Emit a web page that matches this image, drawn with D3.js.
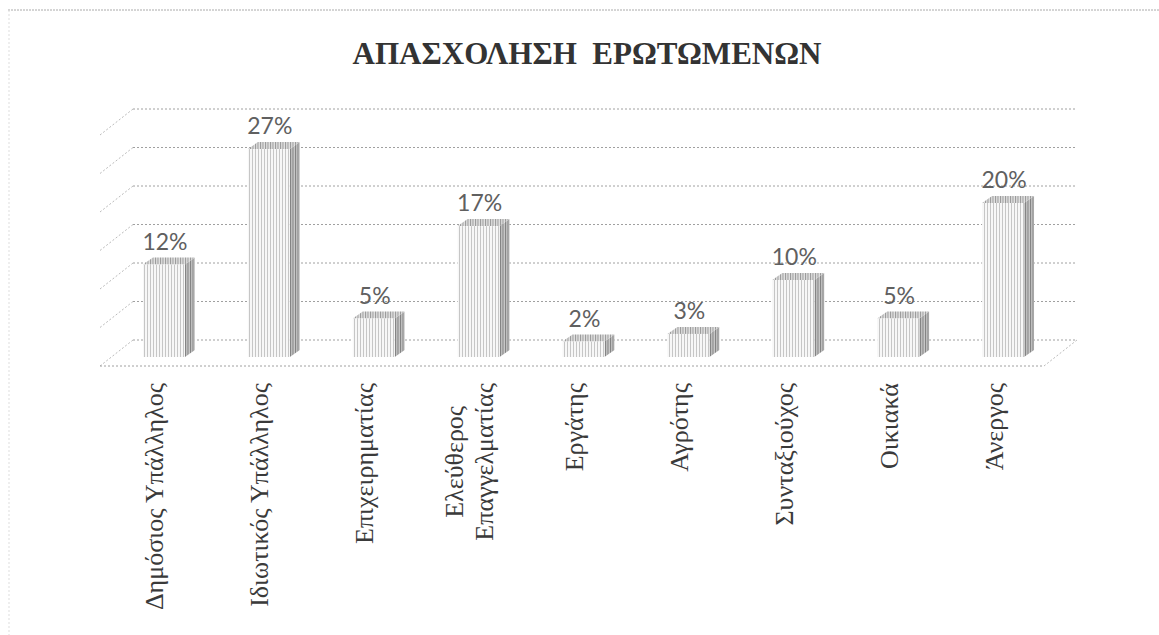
<!DOCTYPE html>
<html>
<head>
<meta charset="utf-8">
<script src="https://cdn.jsdelivr.net/npm/d3@7"></script>
<style>
  body { margin: 0; background: #fff; }
</style>
</head>
<body>
<div id="canvas"></div>
<script>
var title = "ΑΠΑΣΧΟΛΗΣΗ  ΕΡΩΤΩΜΕΝΩΝ";
var categories = [
  ["Δημόσιος Υπάλληλος"],
  ["Ιδιωτικός Υπάλληλος"],
  ["Επιχειρηματίας"],
  ["Ελεύθερος", "Επαγγελματίας"],
  ["Εργάτης"],
  ["Αγρότης"],
  ["Συνταξιούχος"],
  ["Οικιακά"],
  ["Άνεργος"]
];
var values = [12, 27, 5, 17, 2, 3, 10, 5, 20];
var gridTicks = [0, 5, 10, 15, 20, 25, 30];

var width = 1159, height = 635;
var floorLeft = 100, floorRight = 1044, floorFront = 366;
var wallDx = 33, wallDy = -26;      // depth of the 3d box
var barDx = 11.5, barDy = -9;       // where the bar front sits in depth
var sideDx = 10, sideDy = -7;       // bar depth

var svg = d3.select("#canvas").append("svg").attr("width", width).attr("height", height);

// stripe textures for the bar faces
var defs = svg.append("defs");
var makeStripes = function(id, bg, line, step) {
  var p = defs.append("pattern").attr("id", id)
    .attr("patternUnits", "userSpaceOnUse")
    .attr("width", step).attr("height", 4);
  p.append("rect").attr("width", step).attr("height", 4).attr("fill", bg);
  p.append("rect").attr("width", 1).attr("height", 4).attr("fill", line);
};
makeStripes("frontFill", "#f7f7f7", "#c6c6c6", 3);
makeStripes("sideFill", "#c8c8c8", "#7e7e7e", 2.5);
makeStripes("topFill", "#e2e2e2", "#969696", 2.5);

// outer frame
svg.append("line").attr("x1", 8).attr("y1", 10).attr("x2", width).attr("y2", 10)
  .attr("stroke", "#aaa").attr("stroke-dasharray", "2,1");
svg.append("line").attr("x1", 9).attr("y1", 10).attr("x2", 9).attr("y2", height)
  .attr("stroke", "#ddd").attr("stroke-dasharray", "2,2");

// title
svg.append("text").attr("x", 587).attr("y", 64)
  .attr("text-anchor", "middle")
  .style("font-family", "'Liberation Serif', 'DejaVu Serif', serif")
  .style("font-weight", "bold")
  .style("font-size", "32px")
  .style("fill", "#333")
  .style("white-space", "pre")
  .attr("textLength", 469).attr("lengthAdjust", "spacingAndGlyphs")
  .text(title);

var x = d3.scaleBand().domain(d3.range(categories.length)).range([floorLeft, floorRight]).paddingInner(0).paddingOuter(0);
var y = d3.scaleLinear().domain([0, 30]).range([floorFront, floorFront - 231]);

var grid = svg.append("g").attr("stroke", "#a0a0a0").attr("stroke-dasharray", "2,2").attr("fill", "none");
gridTicks.forEach(function(v) {
  var gy = y(v) + wallDy;
  grid.append("line")
    .attr("x1", floorLeft + wallDx).attr("y1", gy)
    .attr("x2", floorRight + wallDx).attr("y2", gy);
  grid.append("line")
    .attr("x1", floorLeft + wallDx).attr("y1", gy)
    .attr("x2", floorLeft).attr("y2", gy - wallDy)
    .attr("stroke", "#bbb");
});
// floor front and right edge
grid.append("line").attr("x1", floorLeft).attr("y1", floorFront).attr("x2", floorRight).attr("y2", floorFront);
grid.append("line").attr("x1", floorRight).attr("y1", floorFront).attr("x2", floorRight + wallDx).attr("y2", floorFront + wallDy)
  .attr("stroke", "#bbb");

var barW = x.bandwidth() * 0.4;
var bars = svg.append("g");
values.forEach(function(v, i) {
  var fx = x(i) + (x.bandwidth() - barW) / 2 + barDx;
  var fBottom = y(0) + barDy;
  var fTop = y(v) + barDy;
  // side
  bars.append("path")
    .attr("d", "M" + (fx + barW) + "," + fTop + "L" + (fx + barW + sideDx) + "," + (fTop + sideDy) +
      "L" + (fx + barW + sideDx) + "," + (fBottom + sideDy) + "L" + (fx + barW) + "," + fBottom + "Z")
    .attr("fill", "url(#sideFill)");
  // top
  bars.append("path")
    .attr("d", "M" + fx + "," + fTop + "L" + (fx + sideDx) + "," + (fTop + sideDy) +
      "L" + (fx + barW + sideDx) + "," + (fTop + sideDy) + "L" + (fx + barW) + "," + fTop + "Z")
    .attr("fill", "url(#topFill)");
  // front
  bars.append("rect")
    .attr("x", fx).attr("y", fTop)
    .attr("width", barW).attr("height", fBottom - fTop)
    .attr("fill", "url(#frontFill)");

  svg.append("text")
    .attr("x", fx + barW / 2 + 1)
    .attr("y", fTop - 15)
    .attr("text-anchor", "middle")
    .style("font-family", "Lato, 'Open Sans', sans-serif")
    .style("font-size", "23px")
    .style("fill", "#606060")
    .text(v + "%");
});

// category labels, rotated, top-anchored
var labelTop = 383;
var fontSize = 26;
var lineGap = 30;
categories.forEach(function(lines, i) {
  var cx = x(i) + x.bandwidth() / 2;
  var g = svg.append("g");
  var nodes = [];
  lines.forEach(function(line) {
    nodes.push(g.append("text")
      .style("font-family", "'Liberation Serif', 'DejaVu Serif', serif")
      .style("font-size", fontSize + "px")
      .style("fill", "#3a3a3a")
      .attr("text-anchor", "middle")
      .text(line));
  });
  var maxLen = d3.max(nodes, function(n) { return n.node().getComputedTextLength(); });
  var baseX = cx + 11 - (lines.length - 1) * lineGap / 2;
  nodes.forEach(function(n, k) {
    n.attr("transform", "translate(" + (baseX + k * lineGap) + "," + (labelTop + maxLen / 2) + ") rotate(-90)");
  });
});
</script>
</body>
</html>
